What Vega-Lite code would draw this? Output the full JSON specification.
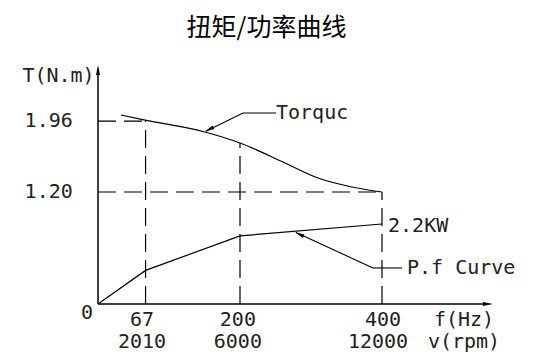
{
  "$schema": "https://vega.github.io/schema/vega-lite/v6.json",
  "width": 533,
  "height": 309,
  "autosize": "none",
  "padding": {"top": 55, "left": 0, "right": 0, "bottom": 0},
  "background": "white",
  "title": {"text": "扭矩/功率曲线", "font": "Noto Sans CJK SC", "fontSize": 25, "fontWeight": "normal", "color": "#000", "anchor": "middle", "frame": "group", "baseline": "alphabetic", "offset": 21, "dy": 27},
  "config": {"view": {"stroke": null}},
  "encoding": {
    "x": {"field": "f", "type": "quantitative", "scale": {"domain": [-138.03, 612.68], "nice": false, "zero": false}, "axis": null},
    "y": {"field": "t", "type": "quantitative", "scale": {"domain": [-0.643, 2.668], "nice": false, "zero": false}, "axis": null}
  },
  "layer": [
    {
      "data": {"values": [
        {"f": 0, "t": 1.96, "f2": 67, "t2": 1.96},
        {"f": 67, "t": 0, "f2": 67, "t2": 1.96},
        {"f": 0, "t": 1.2, "f2": 400, "t2": 1.2},
        {"f": 200, "t": 0, "f2": 200, "t2": 1.725},
        {"f": 400, "t": 0, "f2": 400, "t2": 1.2}
      ]},
      "mark": {"type": "rule", "color": "#000", "strokeWidth": 1.2, "strokeDash": [18, 8]},
      "encoding": {"x2": {"field": "f2"}, "y2": {"field": "t2"}}
    },
    {
      "data": {"values": [
        {"f": 0, "t": 0, "f2": 548, "t2": 0},
        {"f": 0, "t": 0, "f2": 0, "t2": 2.5}
      ]},
      "mark": {"type": "rule", "color": "#000", "strokeWidth": 1.5},
      "encoding": {"x2": {"field": "f2"}, "y2": {"field": "t2"}}
    },
    {
      "data": {"values": [
        {"f": 250.7, "t": 2.046, "f2": 204.2, "t2": 2.046},
        {"f": 204.2, "t": 2.046, "f2": 152, "t2": 1.852},
        {"f": 428.2, "t": 0.386, "f2": 387.3, "t2": 0.386},
        {"f": 387.3, "t": 0.386, "f2": 279, "t2": 0.765}
      ]},
      "mark": {"type": "rule", "color": "#000", "strokeWidth": 1.1},
      "encoding": {"x2": {"field": "f2"}, "y2": {"field": "t2"}}
    },
    {
      "data": {"values": [
        {"f": 32.4, "t": 2.025},
        {"f": 66.2, "t": 1.971},
        {"f": 150.7, "t": 1.843},
        {"f": 200, "t": 1.725},
        {"f": 263.4, "t": 1.511},
        {"f": 309.9, "t": 1.35},
        {"f": 357.7, "t": 1.254},
        {"f": 400, "t": 1.2}
      ]},
      "mark": {"type": "line", "color": "#000", "strokeWidth": 1.2, "interpolate": "monotone"}
    },
    {
      "data": {"values": [
        {"f": 0, "t": 0},
        {"f": 67, "t": 0.36},
        {"f": 200, "t": 0.73},
        {"f": 400, "t": 0.857}
      ]},
      "mark": {"type": "line", "color": "#000", "strokeWidth": 1.2}
    },
    {
      "data": {"values": [{"f": 0, "t": 2.561}]},
      "mark": {"type": "point", "shape": "M0,0L-0.4,2L0.4,2Z", "filled": true, "color": "#000", "opacity": 1, "size": 100, "angle": 0}
    },
    {
      "data": {"values": [{"f": 556.3, "t": 0}]},
      "mark": {"type": "point", "shape": "M0,0L-0.4,2L0.4,2Z", "filled": true, "color": "#000", "opacity": 1, "size": 100, "angle": 90}
    },
    {
      "data": {"values": [{"f": 150.7, "t": 1.85}]},
      "mark": {"type": "point", "shape": "M0,0L-0.4,2L0.4,2Z", "filled": true, "color": "#000", "opacity": 1, "size": 90, "angle": 245}
    },
    {
      "data": {"values": [{"f": 277.5, "t": 0.768}]},
      "mark": {"type": "point", "shape": "M0,0L-0.4,2L0.4,2Z", "filled": true, "color": "#000", "opacity": 1, "size": 90, "angle": 294}
    },
    {
      "data": {"values": [
        {"f": -55.6, "t": 2.443, "label": "T(N.m)"},
        {"f": -15.5, "t": -0.096, "label": "0"},
        {"f": 62, "t": -0.17, "label": "67"},
        {"f": 62, "t": -0.41, "label": "2010"},
        {"f": 197, "t": -0.17, "label": "200"},
        {"f": 197, "t": -0.41, "label": "6000"},
        {"f": 401.4, "t": -0.17, "label": "400"},
        {"f": 394.4, "t": -0.41, "label": "12000"},
        {"f": 515.5, "t": -0.17, "label": "f(Hz)"},
        {"f": 515.5, "t": -0.41, "label": "v(rpm)"}
      ]},
      "mark": {"type": "text", "font": "DejaVu Sans Mono", "fontSize": 20, "color": "#222", "align": "center", "baseline": "middle"},
      "encoding": {"text": {"field": "label"}}
    },
    {
      "data": {"values": [
        {"f": -35.5, "t": 1.96, "label": "1.96"},
        {"f": -35.5, "t": 1.2, "label": "1.20"}
      ]},
      "mark": {"type": "text", "font": "DejaVu Sans Mono", "fontSize": 20, "color": "#222", "align": "right", "baseline": "middle"},
      "encoding": {"text": {"field": "label"}}
    },
    {
      "data": {"values": [
        {"f": 250.7, "t": 2.046, "label": "Torquc"},
        {"f": 408.5, "t": 0.836, "label": "2.2KW"},
        {"f": 435.2, "t": 0.386, "label": "P.f Curve"}
      ]},
      "mark": {"type": "text", "font": "DejaVu Sans Mono", "fontSize": 20, "color": "#222", "align": "left", "baseline": "middle"},
      "encoding": {"text": {"field": "label"}}
    }
  ]
}
